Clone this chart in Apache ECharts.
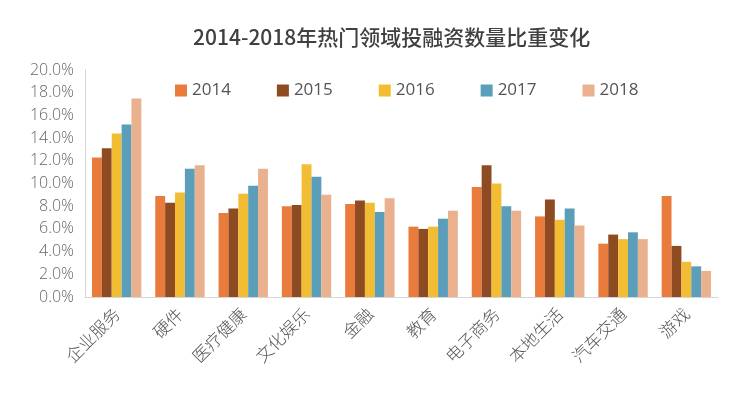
<!DOCTYPE html>
<html><head><meta charset="utf-8">
<script src="https://cdn.jsdelivr.net/npm/echarts@6/dist/echarts.min.js"></script>
<style>html,body{margin:0;padding:0;background:#fff}#c{width:740px;height:405px}</style>
</head><body><div id="c"></div>
<script>
const categories = ['企业服务','硬件','医疗健康','文化娱乐','金融','教育','电子商务','本地生活','汽车交通','游戏'];
const years = ['2014','2015','2016','2017','2018'];
const v2014 = [12.3, 8.9, 7.4, 8.0, 8.2, 6.2, 9.7, 7.1, 4.7, 8.9];
const v2015 = [13.1, 8.3, 7.8, 8.1, 8.5, 6.0, 11.6, 8.6, 5.5, 4.5];
const v2016 = [14.4, 9.2, 9.1, 11.7, 8.3, 6.2, 10.0, 6.8, 5.1, 3.1];
const v2017 = [15.2, 11.3, 9.8, 10.6, 7.5, 6.9, 8.0, 7.8, 5.7, 2.7];
const v2018 = [17.5, 11.6, 11.3, 9.0, 8.7, 7.6, 7.6, 6.3, 5.1, 2.3];
const yTicks = ['0.0%','2.0%','4.0%','6.0%','8.0%','10.0%','12.0%','14.0%','16.0%','18.0%','20.0%'];
const colors = ['#E97B3C','#8E4A20','#F3BD33','#5A9EB9','#E9B18D'];
const seriesData = [v2014, v2015, v2016, v2017, v2018];
const FONT = '"Noto Sans CJK SC", "Noto Sans", sans-serif';
const NUMFONT = '"Open Sans", "Noto Sans", sans-serif';

const chart = echarts.init(document.getElementById('c'));
chart.setOption({
  animation: false,
  color: colors,
  title: {
    text: '2014-2018年热门领域投融资数量比重变化',
    left: 188, top: 22,
    textStyle: { fontFamily: FONT, fontSize: 21, fontWeight: 500, color: '#404040' }
  },
  legend: {
    data: years, top: 77, left: 170,
    itemWidth: 12, itemHeight: 12, itemGap: 46, icon: 'rect',
    textStyle: { fontFamily: NUMFONT, fontSize: 17, color: '#555' }
  },
  grid: { left: 85, right: 22, top: 70, bottom: 108, containLabel: false },
  xAxis: {
    type: 'category', data: categories,
    axisLine: { lineStyle: { color: '#d6d6d6' } },
    axisTick: { show: false },
    axisLabel: { rotate: 45, interval: 0, fontFamily: FONT, fontSize: 17, fontWeight: 300, color: '#555', margin: 14 }
  },
  yAxis: {
    type: 'value', min: 0, max: 20, interval: 2,
    axisLine: { show: true, lineStyle: { color: '#d6d6d6' } },
    axisTick: { show: false },
    splitLine: { show: false },
    axisLabel: { fontFamily: NUMFONT, fontSize: 16, fontWeight: 300, color: '#666', margin: 11,
      formatter: function (v) { return yTicks[Math.round(v / 2)]; } }
  },
  series: years.map(function (y, i) {
    return { name: y, type: 'bar', data: seriesData[i], barGap: '0%', barCategoryGap: '22%' };
  })
});
</script></body></html>
